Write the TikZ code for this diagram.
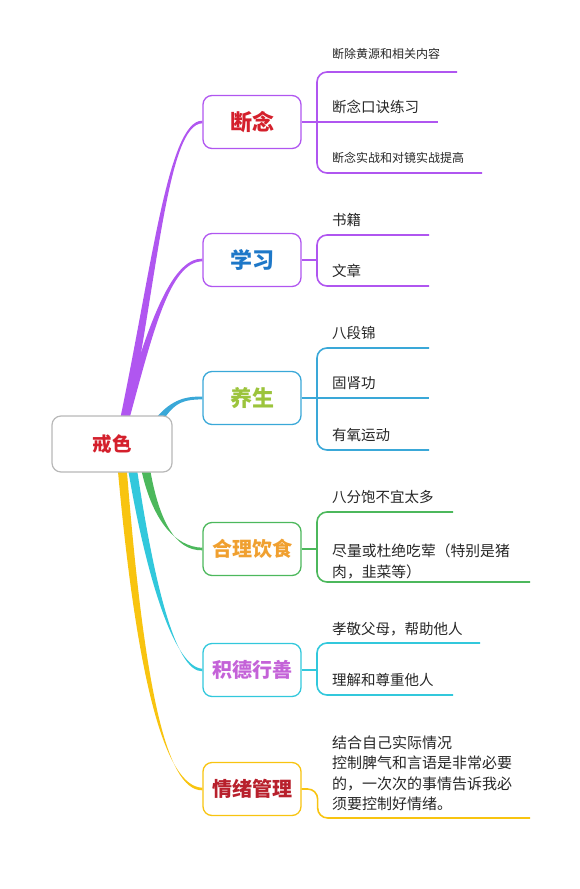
\documentclass[tikz,border=0pt]{standalone}
\usepackage{fontspec}
\setmainfont{Noto Sans CJK SC}
\usepackage{tikz}
\usepackage{xcolor}
\usetikzlibrary{positioning}
\usetikzlibrary{calc}
\definecolor{mpurple}{RGB}{176,86,240}
\definecolor{mblue}{RGB}{58,168,216}
\definecolor{mgreen}{RGB}{76,184,92}
\definecolor{mcyan}{RGB}{50,200,220}
\definecolor{myellow}{RGB}{248,196,16}
\definecolor{mgray}{RGB}{184,184,184}
\definecolor{tred}{RGB}{212,32,44}
\definecolor{tblue}{RGB}{30,120,200}
\definecolor{tlime}{RGB}{156,196,60}
\definecolor{torange}{RGB}{240,160,48}
\definecolor{tpink}{RGB}{196,98,216}
\definecolor{tdark}{RGB}{184,32,44}
% tapered trunk: colour, start, control 1, control 2, end
\newcommand{\trunkfill}[5]{%
  \fill[#1] ($(#2)+(-4.5,0)$) .. controls ($(#3)+(-3.5,0)$) and ($(#4)+(0,-2)$) .. ($(#5)+(0,-1.3)$)
    -- ($(#5)+(0,1.3)$) .. controls ($(#4)+(0,2)$) and ($(#3)+(3.5,0)$) .. ($(#2)+(4.5,0)$) -- cycle;}

\begin{document}
\begin{tikzpicture}[x=1pt, y=-1pt,
    module/.style={draw, line width=1.3pt, rounded corners=9pt, fill=white, minimum width=98pt, minimum height=53pt, inner sep=2pt, font=\bfseries\fontsize{22}{26}\selectfont},
    longmodule/.style={module, font=\bfseries\fontsize{20}{24}\selectfont},
    leaf/.style={anchor=base west, inner sep=0pt, text=black!85, font=\fontsize{14.5}{20}\selectfont},
    smallleaf/.style={leaf, font=\fontsize{12}{16}\selectfont},
    twig/.style={line width=1.6pt, rounded corners=10pt},
]
    \useasboundingbox (0,0) rectangle (580,889);

    % anchors for the trunks
    \coordinate (ctop) at (124,422);
    \coordinate (cright) at (156,424);

    \node[module, draw=mpurple] (dn) at (252,122) {\color{tred}断念};
    \node[module, draw=mpurple] (xx) at (252,260) {\color{tblue}学习};
    \node[module, draw=mblue] (ys) at (252,398) {\color{tlime}养生};
    \node[longmodule, draw=mgreen] (hl) at (252,549) {\color{torange}合理饮食};
    \node[longmodule, draw=mcyan] (jd) at (252,670) {\color{tpink}积德行善};
    \node[longmodule, draw=myellow] (qx) at (252,789) {\color{tdark}情绪管理};

    \coordinate (b1) at (145,466);
    \coordinate (b2) at (132,466);
    \coordinate (b3) at (122,466);
    \trunkfill{mpurple}{ctop}{155,270}{168,122}{dn.west}
    \trunkfill{mpurple}{ctop}{150,330}{170,260}{xx.west}
    \trunkfill{mblue}{cright}{172,400}{185,398}{ys.west}
    \trunkfill{mgreen}{b1}{155,520}{175,549}{hl.west}
    \trunkfill{mcyan}{b2}{150,580}{175,670}{jd.west}
    \trunkfill{myellow}{b3}{140,680}{165,789}{qx.west}

    \node[draw=mgray, line width=1.2pt, rounded corners=9pt, fill=white, minimum width=120pt, minimum height=56pt, font=\bfseries\fontsize{19.5}{24}\selectfont] (c) at (112,444) {\color{tred}戒色};

    % 断念
    \coordinate (d1) at (457,72);
    \coordinate (d2) at (438,122);
    \coordinate (d3) at (482,173);
    \draw[twig, color=mpurple] (dn.east) -- (317,122);
    \draw[twig, color=mpurple] (d1) -| (317,122) |- (d3);
    \draw[twig, color=mpurple] (317,122) -- (d2);
    \node[smallleaf] (d1t) at (332,58) {断除黄源和相关内容};
    \node[leaf] (d2t) at (332,112) {断念口诀练习};
    \node[smallleaf] (d3t) at (332,162) {断念实战和对镜实战提高};

    % 学习
    \coordinate (x1) at (429,235);
    \coordinate (x2) at (429,286);
    \draw[twig, color=mpurple] (xx.east) -- (317,260);
    \draw[twig, color=mpurple] (x1) -| (317,260) |- (x2);
    \node[leaf] (x1t) at (332,225) {书籍};
    \node[leaf] (x2t) at (332,276) {文章};

    % 养生
    \coordinate (y1) at (429,348);
    \coordinate (y2) at (429,398);
    \coordinate (y3) at (429,450);
    \draw[twig, color=mblue] (ys.east) -- (317,398);
    \draw[twig, color=mblue] (y1) -| (317,398) |- (y3);
    \draw[twig, color=mblue] (317,398) -- (y2);
    \node[leaf] (y1t) at (332,338) {八段锦};
    \node[leaf] (y2t) at (332,388) {固肾功};
    \node[leaf] (y3t) at (332,440) {有氧运动};

    % 合理饮食
    \coordinate (h1) at (453,512);
    \coordinate (h2) at (530,582);
    \draw[twig, color=mgreen] (hl.east) -- (317,549);
    \draw[twig, color=mgreen] (h1) -| (317,549) |- (h2);
    \node[leaf] (h1t) at (332,502) {八分饱不宜太多};
    \node[leaf, anchor=south west, align=left, font=\fontsize{14.8}{21}\selectfont] (h2t) at (332,579) {尽量或杜绝吃荤（特别是猪\\肉，韭菜等）};

    % 积德行善
    \coordinate (j1) at (480,643);
    \coordinate (j2) at (453,695);
    \draw[twig, color=mcyan] (jd.east) -- (317,670);
    \draw[twig, color=mcyan] (j1) -| (317,670) |- (j2);
    \node[leaf] (j1t) at (332,634) {孝敬父母，帮助他人};
    \node[leaf] (j2t) at (332,685) {理解和尊重他人};

    % 情绪管理
    \coordinate (q1) at (530,818);
    \draw[twig, color=myellow] (qx.east) -- ++(16,0) |- (q1);
    \node[leaf, anchor=south west, align=left, font=\fontsize{15}{20.3}\selectfont] (q1t) at (332,811) {结合自己实际情况\\控制脾气和言语是非常必要\\的，一次次的事情告诉我必\\须要控制好情绪。};

\end{tikzpicture}
\end{document}
